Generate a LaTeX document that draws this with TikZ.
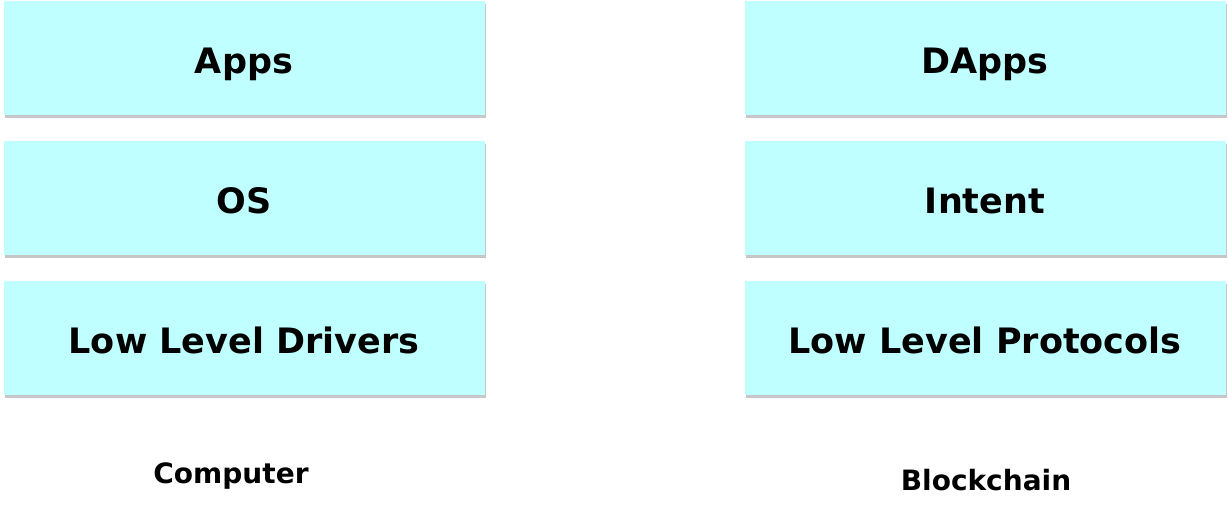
\documentclass[tikz,border=0pt]{standalone}
\usepackage{fontspec}
\setmainfont{DejaVu Sans}
\usetikzlibrary{shadows}
\begin{document}
\begin{tikzpicture}[x=1pt, y=-1pt, layer/.style={fill=layercyan, draw=none, minimum width=481pt, minimum height=114pt, inner sep=0pt, text height=30pt, text depth=0pt, font=\fontsize{35}{42}\selectfont\bfseries, drop shadow={shadow xshift=1.5pt, shadow yshift=-2.5pt, opacity=0.45, fill=gray}}, caption/.style={text height=20pt, text depth=0pt, font=\fontsize{28}{34}\selectfont\bfseries}]

        \definecolor{layercyan}{HTML}{C0FFFF}
        \useasboundingbox (0,0) rectangle (1229,512);

        \def\leftx{244}
        \def\rightx{985}

        \foreach \name/\y/\txt in {capps/58/Apps, cos/198/OS, cdrv/338/Low Level Drivers} {%
            \node[layer] (\name) at (\leftx,\y) {\txt};%
        }

        \foreach \name/\y/\txt in {bapps/58/DApps, bint/198/Intent, bproto/338/Low Level Protocols} {%
            \node[layer] (\name) at (\rightx,\y) {\txt};%
        }

        \node[caption] (computer) at (231,473) {Computer};
        \node[caption] (blockchain) at (986,480) {Blockchain};

    \end{tikzpicture}
\end{document}
